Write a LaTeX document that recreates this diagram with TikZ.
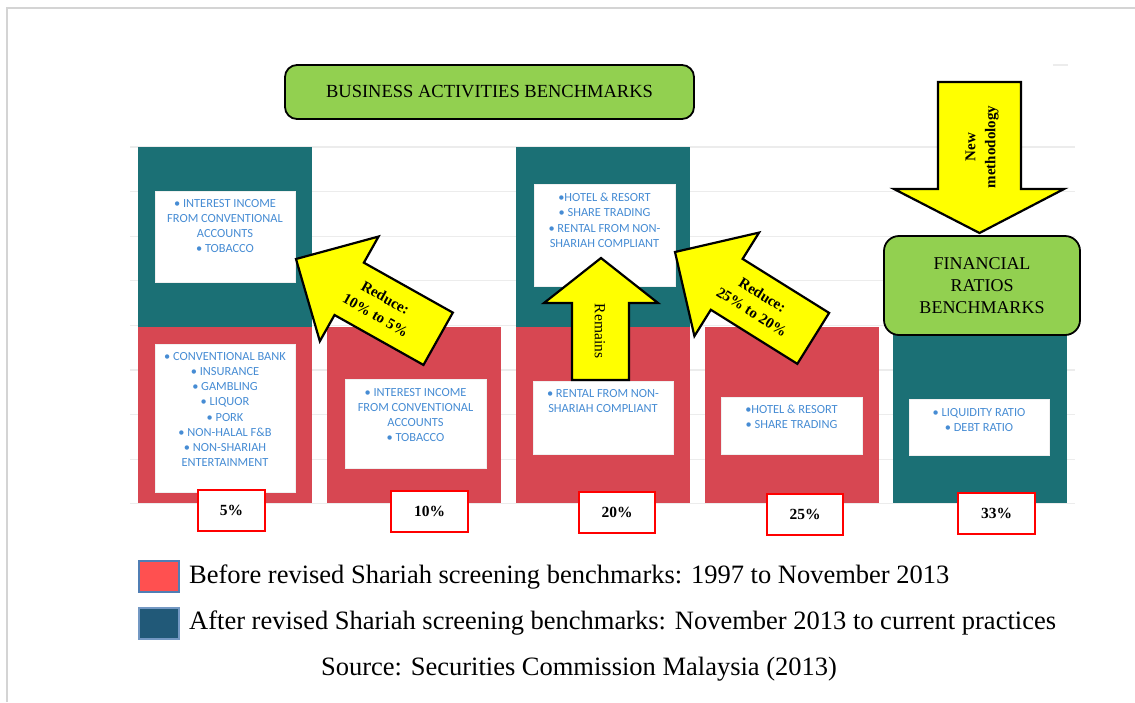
\documentclass[tikz,border=0pt]{standalone}
\usepackage{fontspec}
\setmainfont{Liberation Serif}
\newfontfamily\calfont{Carlito}
\definecolor{tealbar}{RGB}{27,112,117}
\definecolor{redbar}{RGB}{215,71,82}
\definecolor{bluetxt}{RGB}{70,140,212}
\definecolor{greenbox}{RGB}{146,208,80}
\definecolor{arrowyellow}{RGB}{255,255,0}
\definecolor{legred}{RGB}{255,80,80}
\definecolor{legblue}{RGB}{33,89,120}
\definecolor{legedge}{RGB}{80,126,180}
\definecolor{gridgray}{RGB}{236,236,236}
\definecolor{framegray}{RGB}{212,212,212}
\begin{document}
\begin{tikzpicture}[x=1pt,y=-1pt,
  bar/.style={draw=none,inner sep=0,minimum width=174pt},
  wbox/.style={fill=white,draw=gray!12,line width=0.6pt,inner sep=0},
  blist/.style={font=\calfont\fontsize{12.4}{15.2}\selectfont,text=bluetxt,align=center,inner sep=0,anchor=north},
  pct/.style={fill=white,draw=red,line width=2pt,minimum height=41pt,inner sep=0,font=\fontsize{15.5}{18}\selectfont\bfseries},
  gbox/.style={fill=greenbox,draw=black,line width=1.8pt,rounded corners=12pt,inner sep=0,align=center},
  fat/.style={fill=arrowyellow,draw=black,line width=2.2pt,line join=miter},
  arrtxt/.style={font=\fontsize{15}{20}\selectfont\bfseries,align=center,inner sep=0},
  legsq/.style={line width=2pt,minimum width=40pt,minimum height=31pt,inner sep=0},
  legtxt/.style={font=\fontsize{26.5}{30}\selectfont,inner sep=0}
]
\useasboundingbox (0,0) rectangle (1135,702);
% frame
\draw[framegray,line width=1.5pt] (7,702) -- (7,8) -- (1135,8);
% grid lines
\foreach \k in {0,...,8}{\draw[gridgray,line width=1.3pt] (130,147+\k*44.6) -- (1075,147+\k*44.6);}
\draw[gridgray,line width=1.3pt] (1053,65) -- (1068,65);
% bars
\node[bar,fill=tealbar,minimum height=180pt] (t1) at (225,237) {};
\node[bar,fill=redbar,minimum height=176pt] (r1) at (225,415) {};
\node[bar,fill=redbar,minimum height=176pt] (r2) at (414,415) {};
\node[bar,fill=tealbar,minimum height=180pt] (t3) at (603,237) {};
\node[bar,fill=redbar,minimum height=176pt] (r3) at (603,415) {};
\node[bar,fill=redbar,minimum height=176pt] (r4) at (792,415) {};
\node[bar,fill=tealbar,minimum height=176pt] (t5) at (980,415) {};
% white boxes
\node[wbox,minimum width=140pt,minimum height=91pt] (w1a) at (225,236.5) {};
\node[blist] (l1a) at (225,199) {• INTEREST INCOME\\FROM CONVENTIONAL\\ACCOUNTS\\• TOBACCO};
\node[wbox,minimum width=140pt,minimum height=148pt] (w1b) at (225,418) {};
\node[blist] (l1b) at (225,352) {• CONVENTIONAL BANK\\• INSURANCE\\• GAMBLING\\• LIQUOR\\• PORK\\• NON-HALAL F\&B\\• NON-SHARIAH\\ENTERTAINMENT};
\node[wbox,minimum width=141pt,minimum height=89pt] (w2) at (415.5,423.5) {};
\node[blist] (l2) at (415.5,388) {• INTEREST INCOME\\FROM CONVENTIONAL\\ACCOUNTS\\• TOBACCO};
\node[wbox,minimum width=141pt,minimum height=102pt] (w3a) at (604.5,235) {};
\node[blist] (l3a) at (604.5,193) {•HOTEL \& RESORT\\• SHARE TRADING\\• RENTAL FROM NON-\\SHARIAH COMPLIANT};
\node[wbox,minimum width=140pt,minimum height=73pt] (w3b) at (603,417.5) {};
\node[blist] (l3b) at (603,389) {• RENTAL FROM NON-\\SHARIAH COMPLIANT};
\node[wbox,minimum width=141pt,minimum height=57pt] (w4) at (791.5,425.5) {};
\node[blist] (l4) at (791.5,405) {•HOTEL \& RESORT\\• SHARE TRADING};
\node[wbox,minimum width=140pt,minimum height=56pt] (w5) at (979,427) {};
\node[blist] (l5) at (979,408) {• LIQUIDITY RATIO\\• DEBT RATIO};
% percent boxes
\node[pct,minimum width=67pt] (p1) at (231.5,510) {5\%};
\node[pct,minimum width=77pt] (p2) at (429.5,511.5) {10\%};
\node[pct,minimum width=76pt] (p3) at (617,512) {20\%};
\node[pct,minimum width=76pt] (p4) at (805,514) {25\%};
\node[pct,minimum width=77pt] (p5) at (996.5,513) {33\%};
% reduce arrow left
\begin{scope}[shift={(296,259)},rotate=-29.3]
  \draw[fat] (0,0) -- (61,-60) -- (61,-30) -- (163,-30) -- (163,30) -- (61,30) -- (61,60) -- cycle;
  \node[arrtxt,rotate=-29.3] (ra) at (97,0) {Reduce:\\10\% to 5\%};
\end{scope}
% reduce arrow right
\begin{scope}[shift={(675,252)},rotate=-32]
  \draw[fat] (0,0) -- (61,-61) -- (61,-30) -- (163,-30) -- (163,30) -- (61,30) -- (61,61) -- cycle;
  \node[arrtxt,rotate=-32] (rb) at (97,0) {Reduce:\\25\% to 20\%};
\end{scope}
% remains arrow
\draw[fat] (601,258) -- (658,303) -- (629,303) -- (629,380) -- (572,380) -- (572,303) -- (544,303) -- cycle;
\node[arrtxt,font=\fontsize{15.5}{19}\selectfont,rotate=-90] (rm) at (600,331) {Remains};
% new methodology arrow
\draw[fat] (938,82) -- (1021,82) -- (1021,189) -- (1064,189) -- (979.5,233) -- (894,189) -- (938,189) -- cycle;
\node[arrtxt,rotate=90] (nm) at (982,147) {New\\methodology};
% green boxes
\node[gbox,minimum width=409pt,minimum height=54pt,font=\fontsize{18.5}{22}\selectfont] (g1) at (489.5,92) {BUSINESS ACTIVITIES BENCHMARKS};
\node[gbox,rounded corners=15pt,minimum width=196pt,minimum height=99pt,font=\fontsize{18}{22}\selectfont] (g2) at (982,285.5) {FINANCIAL\\RATIOS\\BENCHMARKS};
% legend
\node[legsq,fill=legred,draw=legedge] (lg1) at (159,576.5) {};
\node[legsq,fill=legblue,draw=legedge!80!white] (lg2) at (159,623.5) {};
\node[legtxt,anchor=base west] (lt1) at (189,583) {Before revised Shariah screening benchmarks: 1997 to November 2013};
\node[legtxt,anchor=base west] (lt2) at (189,629) {After revised Shariah screening benchmarks: November 2013 to current practices};
\node[legtxt,anchor=base] (src) at (579,675) {Source: Securities Commission Malaysia (2013)};
\end{tikzpicture}
\end{document}
